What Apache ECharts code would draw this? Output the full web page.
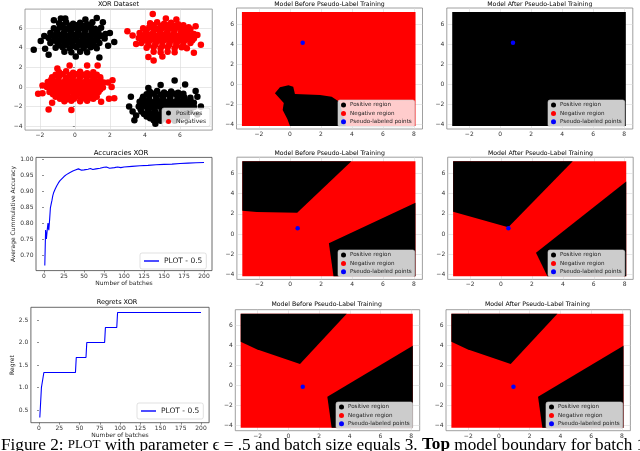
<!DOCTYPE html>
<html><head><meta charset="utf-8">
<script src="https://cdn.jsdelivr.net/npm/echarts@6/dist/echarts.min.js"></script>
<style>html,body{margin:0;padding:0;background:#fff}#c{width:640px;height:451px}</style>
</head><body><div id="c"></div>
<script>
// ---------------- DATA ----------------
const xorPositives = [
 [-0.9,6.5],[-0.5,6.6],[-0.1,6.45],[0.3,6.55],[0.7,6.4],[1.0,6.6],
 [-1.2,6.0],[-0.85,6.1],[-0.45,5.95],[-0.05,6.05],[0.35,6.0],[0.75,6.1],[1.15,5.95],[1.5,6.05],
 [-1.4,5.5],[-1.05,5.55],[-0.65,5.45],[-0.25,5.55],[0.15,5.5],[0.55,5.45],[0.95,5.55],[1.35,5.5],[1.75,5.4],
 [-1.5,5.0],[-1.1,5.05],[-0.7,4.95],[-0.3,5.05],[0.1,5.0],[0.5,4.95],[0.9,5.05],[1.3,5.0],[1.7,4.95],
 [-1.4,4.5],[-1.0,4.55],[-0.6,4.45],[-0.2,4.55],[0.2,4.5],[0.6,4.45],[1.0,4.55],[1.4,4.5],
 [-1.1,4.0],[-0.7,4.05],[-0.3,3.95],[0.1,4.05],[0.5,3.95],[0.9,4.05],[1.25,3.95],
 [-0.6,3.6],[-0.2,3.55],[0.3,3.6],[0.7,3.55],
 [-1.25,5.25],[-0.85,5.3],[-0.45,5.2],[-0.05,5.3],[0.35,5.25],[0.75,5.2],[1.15,5.3],[1.55,5.2],
 [-1.2,4.75],[-0.8,4.8],[-0.4,4.7],[0.0,4.8],[0.4,4.75],[0.8,4.7],[1.2,4.8],
 [-0.9,4.25],[-0.5,4.3],[-0.1,4.2],[0.3,4.3],[0.7,4.25],[1.1,4.2],
 [-1.0,5.8],[-0.6,5.75],[-0.2,5.8],[0.2,5.75],[0.6,5.8],[1.0,5.75],[1.3,5.7],
 [-0.7,6.3],[-0.3,6.25],[0.1,6.3],[0.5,6.25],[0.9,6.3],
 [-2.35,3.8],[-1.95,4.7],[-1.7,3.9],[-1.5,3.3],[-0.8,7.0],[-0.55,7.0],[0.6,6.9],[1.25,7.05],[1.6,6.6],
 [2.0,5.5],[2.25,4.6],[1.4,3.0],[0.05,3.1],[-1.2,6.8],[-1.75,5.2],[1.9,4.2],
 [4.3,-0.5],[4.7,-0.4],[5.1,-0.55],[5.5,-0.45],[5.9,-0.6],[6.2,-0.7],
 [3.9,-1.0],[4.25,-0.9],[4.65,-1.05],[5.05,-0.95],[5.45,-1.0],[5.85,-0.9],[6.25,-1.05],[6.6,-1.1],
 [3.7,-1.5],[4.05,-1.45],[4.45,-1.55],[4.85,-1.45],[5.25,-1.5],[5.65,-1.55],[6.05,-1.45],[6.45,-1.5],[6.8,-1.6],
 [3.65,-2.0],[4.0,-1.95],[4.4,-2.05],[4.8,-1.95],[5.2,-2.0],[5.6,-2.05],[6.0,-1.95],[6.4,-2.0],[6.8,-2.05],
 [3.8,-2.5],[4.2,-2.45],[4.6,-2.55],[5.0,-2.45],[5.4,-2.5],[5.8,-2.55],[6.2,-2.45],[6.6,-2.5],
 [4.1,-3.0],[4.5,-2.95],[4.9,-3.05],[5.3,-2.95],[5.7,-3.05],[6.1,-2.95],[6.4,-3.05],
 [4.5,-3.4],[4.9,-3.45],[5.3,-3.4],[5.7,-3.45],
 [4.1,-0.75],[4.5,-0.7],[4.9,-0.8],[5.3,-0.75],[5.7,-0.7],[6.1,-0.85],
 [3.85,-1.25],[4.25,-1.2],[4.65,-1.3],[5.05,-1.25],[5.45,-1.2],[5.85,-1.3],[6.25,-1.25],[6.6,-1.35],
 [3.8,-1.75],[4.2,-1.7],[4.6,-1.8],[5.0,-1.75],[5.4,-1.7],[5.8,-1.8],[6.2,-1.75],[6.6,-1.75],
 [3.75,-2.25],[4.15,-2.2],[4.55,-2.3],[4.95,-2.25],[5.35,-2.2],[5.75,-2.3],[6.15,-2.25],[6.55,-2.25],
 [3.95,-2.75],[4.35,-2.7],[4.75,-2.8],[5.15,-2.75],[5.55,-2.7],[5.95,-2.8],[6.35,-2.75],
 [4.3,-3.2],[4.7,-3.25],[5.1,-3.2],[5.5,-3.25],[5.9,-3.2],
 [5.7,0.65],[6.3,0.25],[3.2,-1.0],[3.1,-2.0],[3.3,-2.5],[3.4,-3.4],[7.0,-1.0],[7.2,-2.0],
 [4.9,0.2],[4.2,-0.1],[3.5,-2.9],[7.0,-2.8],[6.9,-0.4],[4.6,-3.75]
];
const xorNegatives = [
 [4.3,6.5],[4.7,6.6],[5.1,6.45],[5.5,6.55],[5.9,6.4],[6.2,6.3],
 [3.9,6.0],[4.25,6.1],[4.65,5.95],[5.05,6.05],[5.45,6.0],[5.85,6.1],[6.25,5.95],[6.6,5.9],
 [3.7,5.5],[4.05,5.55],[4.45,5.45],[4.85,5.55],[5.25,5.5],[5.65,5.45],[6.05,5.55],[6.45,5.5],[6.8,5.4],
 [3.65,5.0],[4.0,5.05],[4.4,4.95],[4.8,5.05],[5.2,5.0],[5.6,4.95],[6.0,5.05],[6.4,5.0],[6.8,4.95],
 [3.8,4.5],[4.2,4.55],[4.6,4.45],[5.0,4.55],[5.4,4.5],[5.8,4.45],[6.2,4.55],[6.6,4.5],
 [4.1,4.0],[4.5,4.05],[4.9,3.95],[5.3,4.05],[5.7,3.95],[6.1,4.05],[6.4,3.95],
 [4.5,3.6],[4.9,3.55],[5.3,3.6],[5.7,3.55],
 [3.85,5.25],[4.25,5.3],[4.65,5.2],[5.05,5.3],[5.45,5.25],[5.85,5.2],[6.25,5.3],[6.65,5.2],
 [3.9,4.75],[4.3,4.8],[4.7,4.7],[5.1,4.8],[5.5,4.75],[5.9,4.7],[6.3,4.8],[6.7,4.75],
 [4.2,4.25],[4.6,4.3],[5.0,4.2],[5.4,4.3],[5.8,4.25],[6.2,4.2],
 [4.1,5.8],[4.5,5.75],[4.9,5.8],[5.3,5.75],[5.7,5.8],[6.1,5.75],[6.4,5.7],
 [4.5,6.3],[4.9,6.25],[5.3,6.3],[5.7,6.25],[6.05,6.2],
 [4.45,7.45],[3.0,5.7],[3.3,5.25],[7.2,4.3],[7.0,5.3],[4.5,2.7],[4.2,3.05],[6.5,6.1],
 [5.2,7.0],[5.8,6.9],[3.5,4.4],[6.9,6.2],[6.8,3.5],[5.0,3.1],
 [-0.9,1.5],[-0.5,1.6],[-0.1,1.45],[0.3,1.55],[0.7,1.4],[1.05,1.5],
 [-1.3,1.0],[-0.9,1.1],[-0.5,0.95],[-0.1,1.05],[0.3,1.0],[0.7,1.1],[1.1,0.95],[1.45,1.0],
 [-1.55,0.5],[-1.15,0.55],[-0.75,0.45],[-0.35,0.55],[0.05,0.5],[0.45,0.45],[0.85,0.55],[1.25,0.5],[1.65,0.45],
 [-1.6,0.0],[-1.2,0.05],[-0.8,-0.05],[-0.4,0.05],[0.0,0.0],[0.4,-0.05],[0.8,0.05],[1.2,0.0],[1.6,-0.05],
 [-1.45,-0.5],[-1.05,-0.45],[-0.65,-0.55],[-0.25,-0.45],[0.15,-0.5],[0.55,-0.55],[0.95,-0.45],[1.35,-0.5],
 [-1.1,-1.0],[-0.7,-0.95],[-0.3,-1.05],[0.1,-0.95],[0.5,-1.05],[0.9,-0.95],[1.25,-1.0],
 [-0.6,-1.45],[-0.2,-1.4],[0.3,-1.45],[0.7,-1.4],
 [-1.1,1.25],[-0.7,1.3],[-0.3,1.2],[0.1,1.3],[0.5,1.25],[0.9,1.2],[1.25,1.25],
 [-1.35,0.75],[-0.95,0.8],[-0.55,0.7],[-0.15,0.8],[0.25,0.75],[0.65,0.7],[1.05,0.8],[1.45,0.75],
 [-1.4,0.25],[-1.0,0.3],[-0.6,0.2],[-0.2,0.3],[0.2,0.25],[0.6,0.2],[1.0,0.3],[1.4,0.25],
 [-1.35,-0.25],[-0.95,-0.2],[-0.55,-0.3],[-0.15,-0.25],[0.25,-0.2],[0.65,-0.3],[1.05,-0.25],[1.45,-0.25],
 [-1.25,-0.75],[-0.85,-0.7],[-0.45,-0.8],[-0.05,-0.75],[0.35,-0.7],[0.75,-0.8],[1.15,-0.75],
 [-0.85,-1.2],[-0.45,-1.25],[-0.05,-1.2],[0.35,-1.25],[0.75,-1.2],[1.05,-1.2],
 [-2.1,-0.7],[-1.85,-0.65],[-1.5,-2.3],[-0.2,-2.35],[0.7,2.2],[1.3,2.2],[-0.3,2.2],[2.25,-1.15],
 [1.95,-1.2],[2.15,0.7],[1.9,0.45],[-1.85,0.15],[-1.3,-1.6],[1.5,-1.5],[-1.0,1.9],[2.1,0.0]
];

const accuracyBatches = [1,2,3,4,5,6,7,8,9,10,11,12,14,16,18,20,22,25,28,32,36,40,43,45,47,50,55,58,61,65,70,75,78,82,88,92,96,100,110,120,130,140,150,160,170,180,190,200];
const accuracyValues = [0.667,0.778,0.750,0.778,0.800,0.778,0.810,0.848,0.860,0.872,0.886,0.895,0.907,0.917,0.926,0.933,0.939,0.946,0.952,0.958,0.963,0.967,0.970,0.971,0.966,0.967,0.969,0.971,0.968,0.970,0.972,0.975,0.976,0.972,0.974,0.976,0.974,0.976,0.978,0.980,0.981,0.983,0.984,0.985,0.987,0.988,0.989,0.990];

const regretBatches = [1,2,3,5,6,45,46,58,59,81,82,96,97,200];
const regretValues = [0.333,0.667,1.0,1.0,1.333,1.333,1.667,1.667,2.0,2.0,2.333,2.333,2.667,2.667];

// decision regions (data coordinates)
const meshBounds = [[-3.1,-4.2],[8.1,-4.2],[8.1,7.2],[-3.1,7.2]];
const row1BeforePositive = [[[-0.97,-0.93],[-0.65,-0.33],[-0.1,-0.13],[0.21,-0.27],[0.32,-1.0],[1.94,-1.1],[2.69,-1.27],[3.2,-1.8],[3.6,-4.2],[0.0,-4.2],[-0.17,-3.5],[-0.47,-2.6],[-0.4,-1.9]]];
const row1AfterPositive = [meshBounds];
const row2BeforePositive = [[[-3.1,7.2],[3.96,7.2],[0.45,2.1],[-2.17,2.18],[-3.1,2.3]],[[8.1,3.1],[2.5,-0.92],[2.8,-4.2],[8.1,-4.2]]];
const row2AfterPositive = [[[-3.1,7.2],[4.64,7.2],[0.47,0.66],[-3.1,2.2]],[[8.1,5.2],[2.26,-1.85],[3.0,-4.2],[8.1,-4.2]]];
const row3BeforePositive = [[[-3.1,7.2],[3.8,7.2],[0.76,2.17],[-2.06,3.64],[-3.1,4.4]],[[8.1,4.0],[2.54,-1.1],[2.82,-4.2],[8.1,-4.2]]];
const row3AfterPositive = [[[-3.1,7.2],[3.8,7.2],[0.76,2.17],[-2.06,3.64],[-3.1,4.4]],[[8.1,4.0],[2.54,-1.1],[2.82,-4.2],[8.1,-4.2]]];
const row1Pseudo = [[0.82,4.13]];
const row2Pseudo = [[0.48,0.56]];
const row3Pseudo = [[0.94,-0.1]];

// ticks
const xorXTicks = [-2,0,2,4,6];
const spatialXTicks = [-2,0,2,4,6,8];
const spatialYTicks = [-4,-2,0,2,4,6];
const batchTicks = [0,25,50,75,100,125,150,175,200];
const accuracyTicks = [0.70,0.75,0.80,0.85,0.90,0.95,1.00];
const regretTicks = [0.5,1.0,1.5,2.0,2.5];

// ---------------- CHART ----------------
const FONT = 'DejaVu Sans';
const RED = '#ff0000', BLACK = '#000000', BLUE = '#0000ff';
const fmt = d => v => (v < 0 ? '\u2212' : '') + Math.abs(v).toFixed(d);

const grids = [
 {left:25, top:9.1, width:187.25, height:121},
 {left:236.5, top:8, width:186, height:121},
 {left:446.8, top:8, width:186, height:121},
 {left:36, top:157.4, width:176, height:113.2},
 {left:236.9, top:157.2, width:185.5, height:122.2},
 {left:447.7, top:157.2, width:185.5, height:122.2},
 {left:30.9, top:307.3, width:178.2, height:115.4},
 {left:235.3, top:309.7, width:184.4, height:121},
 {left:446.0, top:309.7, width:184.4, height:121}
].map((g,i) => Object.assign({show:true, borderColor: (i===3||i===6)?'#444':'#888', borderWidth:0.8, backgroundColor:'#fff'}, g));

function axis(gi, pos, min, max, ticks, dec, grid, name, nameGap) {
  return {
    type:'value', gridIndex:gi, position:pos, min, max, splitNumber:5,
    axisLine:{show:false},
    axisTick:{show:true, inside:false, length:2, customValues:ticks, lineStyle:{color:'#444', width:0.6}},
    axisLabel:{customValues:ticks, fontSize:6, color:'#333', margin:2.5, fontFamily:FONT, formatter:fmt(dec)},
    splitLine:{show:grid, lineStyle:{color:'#d8d8d8', width:0.6}},
    name: name || '', nameLocation:'middle', nameGap: nameGap || 0,
    nameTextStyle:{fontSize:6, color:'#222', fontFamily:FONT}
  };
}
const spX = [-3.45, 8.55], spY = [-4.5, 7.6];
const xAxes = [
 axis(0,'bottom',-2.85,7.85,xorXTicks,0,true),
 axis(1,'bottom',spX[0],spX[1],spatialXTicks,0,true),
 axis(2,'bottom',spX[0],spX[1],spatialXTicks,0,true),
 axis(3,'bottom',-10,210,batchTicks,0,false,'Number of batches',10),
 axis(4,'bottom',spX[0],spX[1],spatialXTicks,0,true),
 axis(5,'bottom',spX[0],spX[1],spatialXTicks,0,true),
 axis(6,'bottom',-10,210,batchTicks,0,false,'Number of batches',9),
 axis(7,'bottom',spX[0],spX[1],spatialXTicks,0,true),
 axis(8,'bottom',spX[0],spX[1],spatialXTicks,0,true)
];
const yAxes = [
 axis(0,'left',-4.4,7.95,spatialYTicks,0,true),
 axis(1,'left',spY[0],spY[1],spatialYTicks,0,true),
 axis(2,'left',spY[0],spY[1],spatialYTicks,0,true),
 axis(3,'left',0.651,1.006,accuracyTicks,2,false,'Average Cummulative Accuracy',19),
 axis(4,'left',spY[0],spY[1],spatialYTicks,0,true),
 axis(5,'left',spY[0],spY[1],spatialYTicks,0,true),
 axis(6,'left',0.2167,2.7833,regretTicks,1,false,'Regret',14),
 axis(7,'left',spY[0],spY[1],spatialYTicks,0,true),
 axis(8,'left',spY[0],spY[1],spatialYTicks,0,true)
];

function regionSeries(name, color, polys, gi) {
  return {
    type:'custom', name, xAxisIndex:gi, yAxisIndex:gi, silent:true, z:2,
    itemStyle:{color},
    data: polys.map(p => p[0]),
    renderItem: (params, api) => ({
      type:'polygon',
      shape:{points: polys[params.dataIndex].map(pt => api.coord(pt))},
      style:{fill: color}
    })
  };
}
function pseudoSeries(pts, gi) {
  return {type:'scatter', name:'Pseudo-labeled points', xAxisIndex:gi, yAxisIndex:gi, z:5,
    symbolSize:4.5, itemStyle:{color:BLUE, opacity:1}, data:pts};
}
function lineSeries(xs, ys, gi) {
  return {type:'line', name:'PLOT - 0.5', xAxisIndex:gi, yAxisIndex:gi, showSymbol:false,
    lineStyle:{color:BLUE, width:1.1}, itemStyle:{color:BLUE}, data: xs.map((x,i)=>[x, ys[i]])};
}

const series = [
 {type:'scatter', name:'Positives', xAxisIndex:0, yAxisIndex:0, symbolSize:6.5, itemStyle:{color:BLACK, opacity:1}, data:xorPositives},
 {type:'scatter', name:'Negatives', xAxisIndex:0, yAxisIndex:0, symbolSize:6.5, itemStyle:{color:RED, opacity:1}, data:xorNegatives},
 regionSeries('Negative region', RED, [meshBounds], 1),
 regionSeries('Positive region', BLACK, row1BeforePositive, 1),
 pseudoSeries(row1Pseudo, 1),
 regionSeries('Positive region', BLACK, row1AfterPositive, 2),
 pseudoSeries(row1Pseudo, 2),
 lineSeries(accuracyBatches, accuracyValues, 3),
 regionSeries('Negative region', RED, [meshBounds], 4),
 regionSeries('Positive region', BLACK, row2BeforePositive, 4),
 pseudoSeries(row2Pseudo, 4),
 regionSeries('Negative region', RED, [meshBounds], 5),
 regionSeries('Positive region', BLACK, row2AfterPositive, 5),
 pseudoSeries(row2Pseudo, 5),
 lineSeries(regretBatches, regretValues, 6),
 regionSeries('Negative region', RED, [meshBounds], 7),
 regionSeries('Positive region', BLACK, row3BeforePositive, 7),
 pseudoSeries(row3Pseudo, 7),
 regionSeries('Negative region', RED, [meshBounds], 8),
 regionSeries('Positive region', BLACK, row3AfterPositive, 8),
 pseudoSeries(row3Pseudo, 8)
];

const legendBase = {orient:'vertical', selectedMode:false, backgroundColor:'rgba(255,255,255,0.8)',
  borderColor:'#cccccc', borderWidth:0.6, borderRadius:2, z:20};
function regionLegend(left, top) {
  return Object.assign({}, legendBase, {left, top, itemWidth:5, itemHeight:5, itemGap:2.4, padding:[2,3,2,3],
    textStyle:{fontSize:5.6, color:'#222', fontFamily:FONT, padding:[0,0,0,-1]},
    data:[
      {name:'Positive region', icon:'circle', itemStyle:{color:BLACK}},
      {name:'Negative region', icon:'circle', itemStyle:{color:RED}},
      {name:'Pseudo-labeled points', icon:'circle', itemStyle:{color:BLUE}}
    ]});
}
function lineLegend(left, top) {
  return Object.assign({}, legendBase, {left, top, itemWidth:15, itemHeight:1.4, padding:[4,4,4,4],
    textStyle:{fontSize:7.5, color:'#222', fontFamily:FONT},
    data:[{name:'PLOT - 0.5', icon:'rect', itemStyle:{color:BLUE}}]});
}
const legends = [
  Object.assign({}, legendBase, {left:162, top:108, itemWidth:5, itemHeight:5, itemGap:2.5, padding:[2,4,2,4],
    textStyle:{fontSize:6, color:'#222', fontFamily:FONT},
    data:[{name:'Positives', icon:'circle', itemStyle:{color:BLACK}}, {name:'Negatives', icon:'circle', itemStyle:{color:RED}}]}),
  regionLegend(338, 100), regionLegend(548, 100),
  regionLegend(338, 250), regionLegend(548, 250),
  regionLegend(336, 402), regionLegend(546, 402),
  lineLegend(140, 253), lineLegend(137, 403)
];

const titles = [
 ['XOR Dataset', 118.5, 4.5, 6.5],
 ['Model Before Pseudo-Label Training', 329.5, 4.5, 6.2],
 ['Model After Pseudo-Label Training', 539.8, 4.5, 6.2],
 ['Accuracies XOR', 121, 152.7, 7],
 ['Model Before Pseudo-Label Training', 329.6, 153, 6.2],
 ['Model After Pseudo-Label Training', 540.5, 153, 6.2],
 ['Regrets XOR', 117, 302, 6.5],
 ['Model Before Pseudo-Label Training', 326.7, 304.3, 6.2],
 ['Model After Pseudo-Label Training', 537.5, 304.3, 6.2]
];
const graphics = titles.map(t => ({type:'text', x:t[1], y:t[2], z:50,
  style:{text:t[0], fill:'#000', fontSize:t[3], fontFamily:FONT, align:'center', verticalAlign:'middle', textAlign:'center', textVerticalAlign:'middle'}}));
graphics.push({type:'text', x:1, y:445, z:50, style:{
  text:'{a|Figure 2: }{sc|PLOT}{a| with parameter \u03f5 = .5 and batch size equals 3. }{b|Top}{a| model boundary for batch 1}',
  verticalAlign:'middle', textVerticalAlign:'middle', align:'left', textAlign:'left',
  rich:{
    a:{fontSize:17.2, fontFamily:'Liberation Serif', fill:'#000'},
    sc:{fontSize:13, fontFamily:'Liberation Serif', fill:'#000'},
    b:{fontSize:17.2, fontFamily:'Liberation Serif', fontWeight:'bold', fill:'#000'}
  }}});

const chart = echarts.init(document.getElementById('c'), null, {renderer:'canvas'});
chart.setOption({
  animation:false, backgroundColor:'#fff',
  grid:grids, xAxis:xAxes, yAxis:yAxes, series, legend:legends, graphic:graphics
});
</script></body></html>
